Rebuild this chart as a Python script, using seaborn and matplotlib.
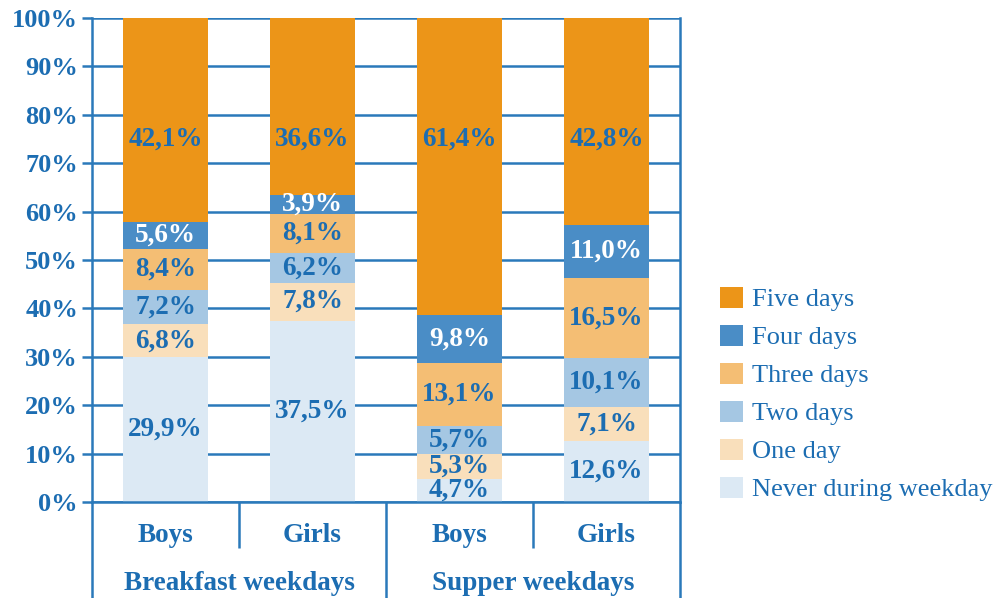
import numpy as np
import pandas as pd
import matplotlib
matplotlib.use("Agg")
import matplotlib.pyplot as plt
import matplotlib.transforms as mtransforms
import seaborn as sns

# ---- data ----
groups = ["Breakfast weekdays", "Supper weekdays"]
sexes = ["Boys", "Girls", "Boys", "Girls"]
bar_keys = ["BB", "BG", "SB", "SG"]
series = ["Never during weekday", "One day", "Two days", "Three days", "Four days", "Five days"]
never = [29.9, 37.5, 4.7, 12.6]
one_day = [6.8, 7.8, 5.3, 7.1]
two_days = [7.2, 6.2, 5.7, 10.1]
three_days = [8.4, 8.1, 13.1, 16.5]
four_days = [5.6, 3.9, 9.8, 11.0]
five_days = [42.1, 36.6, 61.4, 42.8]
yticks = [0, 10, 20, 30, 40, 50, 60, 70, 80, 90, 100]

colors = {
    "Never during weekday": "#DCE9F4",
    "One day": "#F9DFBB",
    "Two days": "#A5C7E3",
    "Three days": "#F4BE74",
    "Four days": "#4A8DC6",
    "Five days": "#EC9518",
}
text_blue = "#1C6DB2"
line_blue = "#2A79BA"

sns.set_theme(style="white")
plt.rcParams["font.family"] = ["Liberation Serif", "DejaVu Serif"]

values = np.array([never, one_day, two_days, three_days, four_days, five_days])
cum = np.cumsum(values, axis=0)
bottoms = cum - values

fig = plt.figure(figsize=(10.06, 5.98), dpi=100)
ax = fig.add_axes([92 / 1006, 96 / 598, 588 / 1006, 484 / 598])

# stacked bars via cumulative totals drawn from top layer down
for i in range(len(series) - 1, -1, -1):
    df = pd.DataFrame({"bar": bar_keys, "total": cum[i]})
    sns.barplot(data=df, x="bar", y="total", order=bar_keys, color=colors[series[i]],
                saturation=1, width=0.585, label=series[i], ax=ax, linewidth=0, zorder=2)

# value labels (top segment labels sit at a common height, as in the original)
for i, s in enumerate(series):
    for j in range(len(bar_keys)):
        v = values[i, j]
        c = "white" if s == "Four days" else text_blue
        ypos = 75 if s == "Five days" else bottoms[i, j] + v / 2
        ax.text(j, ypos, f"{v:.1f}%".replace(".", ","), ha="center", va="center",
                fontsize=19.5, fontweight="bold", color=c, zorder=5)

ax.set_xlim(-0.5, 3.5)
ax.set_ylim(0, 100)
ax.set_yticks(yticks)
ax.set_yticklabels([f"{t}%" for t in yticks], fontsize=19, fontweight="bold", color=text_blue)
ax.set_xticks([])
ax.set_xlabel("")
ax.set_ylabel("")
ax.set_axisbelow(True)
ax.yaxis.grid(True, color=line_blue, linewidth=1.8)
ax.tick_params(axis="y", length=7, width=1.8, color=line_blue, pad=3, left=True)
for side in ["left", "right", "bottom"]:
    ax.spines[side].set_visible(True)
    ax.spines[side].set_color(line_blue)
    ax.spines[side].set_linewidth(1.8)
ax.spines["top"].set_visible(False)

# category axis lines below plot
trans = mtransforms.blended_transform_factory(ax.transData, ax.transAxes)
long_y = -96 / 484
short_y = -46 / 484
for x, y0 in [(-0.5, long_y), (0.5, short_y), (1.5, long_y), (2.5, short_y), (3.5, long_y)]:
    ax.plot([x, x], [0, y0], transform=trans, color=line_blue, linewidth=1.8, clip_on=False,
            solid_capstyle="butt")
for j, s in enumerate(sexes):
    ax.text(j, -34 / 484, s, transform=trans, ha="center", va="center", fontsize=19.5,
            fontweight="bold", color=text_blue)
for g, name in enumerate(groups):
    ax.text(2 * g + 0.5, -81 / 484, name, transform=trans, ha="center", va="center", fontsize=19.5,
            fontweight="bold", color=text_blue)

# legend
handles, labels = ax.get_legend_handles_labels()
leg = fig.legend(handles, labels, loc="center left", bbox_to_anchor=(696 / 1006, 1 - 394 / 598),
                 frameon=False, fontsize=19, handlelength=0.87, handleheight=0.87,
                 labelspacing=0.5, handletextpad=0.34)
for t in leg.get_texts():
    t.set_color(text_blue)
if ax.get_legend() is not None:
    ax.get_legend().remove()

fig.savefig("out.png", dpi=100)
